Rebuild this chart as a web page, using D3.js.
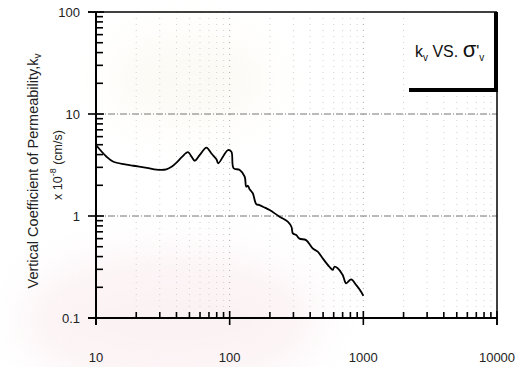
<!DOCTYPE html>
<html>
<head>
<meta charset="utf-8">
<script src="https://cdn.jsdelivr.net/npm/d3@7"></script>
<style>
  html, body { margin: 0; padding: 0; background: #fff; }
  svg { display: block; font-family: "Liberation Sans", Arial, sans-serif; }
</style>
</head>
<body>
<svg id="chart" width="530" height="367"></svg>
<script>
// Effective vertical stress (kPa) and vertical coefficient of permeability (x 1e-8 cm/s)
const stress = [10, 12, 13.5, 16.5, 19, 24, 28.4, 33.6, 37, 40, 44, 48.8, 52, 54.8, 60, 67, 73, 79.6, 82.2, 90, 97, 103, 107, 119, 129.5, 133, 137, 141, 149, 158, 167.5, 185, 199, 236, 272, 290, 297, 315, 333, 373, 419, 456, 500, 557, 590, 608, 643, 701, 743, 810, 883, 962, 1000];
const kv = [4.97, 3.81, 3.40, 3.21, 3.11, 2.97, 2.85, 2.87, 3.05, 3.33, 3.80, 4.22, 3.80, 3.48, 4.0, 4.68, 4.1, 3.60, 3.29, 3.9, 4.43, 4.27, 2.94, 2.83, 2.43, 1.94, 1.98, 1.83, 1.67, 1.31, 1.28, 1.2, 1.145, 0.985, 0.88, 0.78, 0.676, 0.65, 0.60, 0.58, 0.48, 0.447, 0.38, 0.318, 0.296, 0.318, 0.307, 0.264, 0.219, 0.239, 0.211, 0.181, 0.165];

const xMajor = [10, 100, 1000, 10000];
const xMajorLabels = ["10", "100", "1000", "10000"];
const yMajor = [0.1, 1, 10, 100];
const yMajorLabels = ["0.1", "1", "10", "100"];

const svg = d3.select("#chart");
const L = 96, R = 497, T = 12, B = 318;

// faint background seal
const defs = svg.append("defs");
const f = defs.append("filter").attr("id", "soft").attr("x", "-50%").attr("y", "-50%").attr("width", "200%").attr("height", "200%");
f.append("feGaussianBlur").attr("stdDeviation", 20);
svg.append("ellipse").attr("cx", 170).attr("cy", 320).attr("rx", 150).attr("ry", 70)
  .attr("fill", "#f8e4e8").attr("opacity", 0.45).attr("filter", "url(#soft)");
svg.append("ellipse").attr("cx", 190).attr("cy", 80).attr("rx", 80).attr("ry", 45)
  .attr("fill", "#f8f3e4").attr("opacity", 0.4).attr("filter", "url(#soft)");

const x = d3.scaleLog().domain([10, 10000]).range([L, R]);
const y = d3.scaleLog().domain([0.1, 100]).range([B, T]);

const xTicks = x.ticks();   // 10,20,...,10000
const yTicks = y.ticks();
const isMajor = v => Math.abs(Math.log10(v) - Math.round(Math.log10(v))) < 1e-9;

// vertical dotted grid
svg.append("g").selectAll("line")
  .data(xTicks.filter(v => v > 10 && v < 10000))
  .join("line")
  .attr("x1", d => x(d)).attr("x2", d => x(d))
  .attr("y1", T).attr("y2", B)
  .attr("stroke", d => isMajor(d) ? "#aaa" : "#d2d2d2")
  .attr("stroke-width", 1)
  .attr("stroke-dasharray", "1,5");

// horizontal dash-dot grid at decades
svg.append("g").selectAll("line")
  .data(yMajor.filter(v => v > 0.1 && v < 100))
  .join("line")
  .attr("x1", L).attr("x2", R)
  .attr("y1", d => y(d)).attr("y2", d => y(d))
  .attr("stroke", "#777")
  .attr("stroke-width", 1)
  .attr("stroke-dasharray", "7,2,1,2");

// frame
svg.append("line").attr("x1", L - 8).attr("x2", R).attr("y1", T).attr("y2", T).attr("stroke", "#000").attr("stroke-width", 1.5);
svg.append("line").attr("x1", R).attr("x2", R).attr("y1", T).attr("y2", B + 7).attr("stroke", "#000").attr("stroke-width", 1.5);

// axes
const xAxis = svg.append("g");
xAxis.append("line").attr("x1", L - 8).attr("x2", R).attr("y1", B).attr("y2", B).attr("stroke", "#000").attr("stroke-width", 2);
xAxis.selectAll("line.t").data(xTicks).join("line").attr("class", "t")
  .attr("x1", d => x(d)).attr("x2", d => x(d))
  .attr("y1", d => isMajor(d) ? B + 7 : B)
  .attr("y2", d => isMajor(d) ? B - 7 : B - 6)
  .attr("stroke", "#000").attr("stroke-width", 1.6);
xAxis.selectAll("text").data(xMajor).join("text")
  .attr("x", d => x(d)).attr("y", 362)
  .attr("text-anchor", "middle").attr("font-size", 13).attr("fill", "#222")
  .text((d, i) => xMajorLabels[i]);

const yAxis = svg.append("g");
yAxis.append("line").attr("x1", L).attr("x2", L).attr("y1", T).attr("y2", B + 7).attr("stroke", "#000").attr("stroke-width", 2);
yAxis.selectAll("line.t").data(yTicks).join("line").attr("class", "t")
  .attr("y1", d => y(d)).attr("y2", d => y(d))
  .attr("x1", d => isMajor(d) ? L - 8 : L)
  .attr("x2", d => isMajor(d) ? L + 8 : L + 7)
  .attr("stroke", "#000").attr("stroke-width", 1.6);
yAxis.selectAll("text").data(yMajor).join("text")
  .attr("x", 80).attr("y", d => y(d) + 5)
  .attr("text-anchor", "end").attr("font-size", 13).attr("fill", "#222")
  .text((d, i) => yMajorLabels[i]);

// axis titles
const t1 = svg.append("text")
  .attr("transform", "translate(38,171) rotate(-90)")
  .attr("text-anchor", "middle").attr("font-size", 14.5).attr("fill", "#222");
t1.append("tspan").text("Vertical Coefficient of Permeability,k");
t1.append("tspan").attr("font-size", 10).attr("dy", 3).text("v");

const t2 = svg.append("text")
  .attr("transform", "translate(62,165) rotate(-90)")
  .attr("text-anchor", "middle").attr("font-size", 12.5).attr("fill", "#222");
t2.append("tspan").text("x 10");
t2.append("tspan").attr("font-size", 9).attr("dy", -6).text("-8");
t2.append("tspan").attr("dy", 6).text(" (cm/s)");

// data curve
const pts = stress.map((s, i) => [s, kv[i]]);
svg.append("path")
  .datum(pts)
  .attr("fill", "none").attr("stroke", "#000").attr("stroke-width", 1.8)
  .attr("stroke-linejoin", "round")
  .attr("d", d3.line().x(d => x(d[0])).y(d => y(d[1])).curve(d3.curveCatmullRom.alpha(0.5)));

// legend box
const lg = svg.append("g");
lg.append("rect").attr("x", 409).attr("y", T + 1).attr("width", R - 409).attr("height", 77).attr("fill", "#fff");
lg.append("line").attr("x1", 409).attr("x2", R + 1).attr("y1", 90).attr("y2", 90).attr("stroke", "#000").attr("stroke-width", 4);
lg.append("line").attr("x1", R - 1).attr("x2", R - 1).attr("y1", T).attr("y2", 92).attr("stroke", "#000").attr("stroke-width", 4);
const lt = lg.append("text").attr("x", 415).attr("y", 57).attr("font-size", 16).attr("fill", "#111");
lt.append("tspan").text("k");
lt.append("tspan").attr("font-size", 10).attr("dy", 4).text("v");
lt.append("tspan").attr("dy", -4).text(" VS. ");
lt.append("tspan").attr("font-size", 22).text("σ");
lt.append("tspan").text("'");
lt.append("tspan").attr("font-size", 10).attr("dy", 4).text("v");
</script>
</body>
</html>
